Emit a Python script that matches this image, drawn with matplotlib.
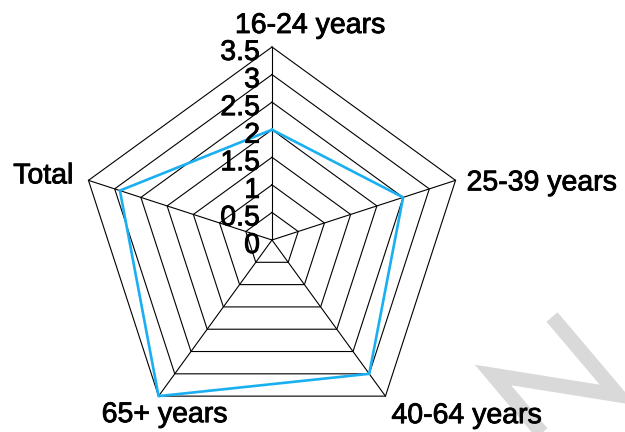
import numpy as np
import matplotlib.pyplot as plt
import matplotlib.patheffects as pe
from matplotlib.lines import Line2D

# Datos
categories = ['16-24 years', '25-39 years', '40-64 years', '65+ years', 'Total']
values = [2.0, 2.5, 3.0, 3.5, 2.9]
levels = [0, 0.5, 1, 1.5, 2, 2.5, 3, 3.5]
level_labels = ['0', '0.5', '1', '1.5', '2', '2.5', '3', '3.5']

hex_line = '#1aaff0'
hex_grid = '#000000'
hex_watermark = '#d9d9d9'

plt.rcParams['font.family'] = ['Liberation Sans', 'DejaVu Sans']
font_size = 20.5
# texto un poco mas grueso, como en la referencia
heavy = [pe.withStroke(linewidth=0.6, foreground='black')]

fig = plt.figure(figsize=(6.25, 4.32), dpi=100)
fig.patch.set_facecolor('white')

# Marca de agua (fondo)
W, H = 625, 432
wm_px = [(552, 317), (618, 395), (493, 375), (552, 445)]
fig.add_artist(Line2D([p[0] / W for p in wm_px], [1 - p[1] / H for p in wm_px],
                      transform=fig.transFigure, color=hex_watermark, lw=10.5,
                      solid_joinstyle='miter', solid_capstyle='butt', zorder=-1))

ax = fig.add_axes([0.1264, -0.0023, 0.6176, 0.8935], projection='polar')
ax.set_theta_offset(np.pi / 2)
ax.set_theta_direction(-1)
ax.set_ylim(0, levels[-1])
ax.set_axis_off()
ax.patch.set_visible(False)

theta = np.linspace(0, 2 * np.pi, len(categories), endpoint=False)
theta_closed = np.append(theta, theta[0])

# Rejilla pentagonal
for lv in levels[1:]:
    ax.plot(theta_closed, [lv] * len(theta_closed), color=hex_grid, lw=0.8, clip_on=False)
for t in theta:
    ax.plot([t, t], [0, levels[-1]], color=hex_grid, lw=0.8, clip_on=False)

# Serie
ax.plot(theta_closed, values + [values[0]], color=hex_line, lw=1.9, clip_on=False, zorder=3)

# Etiquetas de nivel
for lv, lbl in zip(levels, level_labels):
    ax.annotate(lbl, xy=(0, lv), xytext=(-12, -13), textcoords='offset pixels',
                ha='right', va='baseline', fontsize=font_size, annotation_clip=False,
                path_effects=heavy)

# Etiquetas de categorías (offset en pixeles, alineación)
label_pos = [
    ((38, 14), 'center'),
    ((11, -10), 'left'),
    ((6, -27), 'left'),
    ((6, -26), 'center'),
    ((-15, -3), 'right'),
]
for t, cat, (off, ha) in zip(theta, categories, label_pos):
    ax.annotate(cat, xy=(t, levels[-1]), xytext=off, textcoords='offset pixels',
                ha=ha, va='baseline', fontsize=font_size, annotation_clip=False,
                path_effects=heavy)

plt.savefig('out.png', dpi=100)
